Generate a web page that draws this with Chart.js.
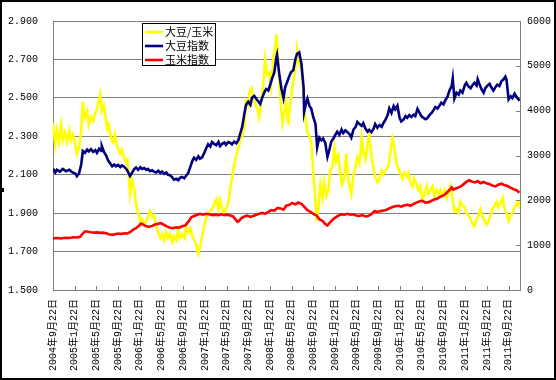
<!DOCTYPE html>
<html><head><meta charset="utf-8">
<script src="https://cdn.jsdelivr.net/npm/chart.js@4.4.1/dist/chart.umd.min.js"></script>
<style>html,body{margin:0;padding:0;background:#fff;}#wrap{width:556px;height:380px;}</style>
</head><body><div id="wrap"><canvas id="c" width="556" height="380"></canvas></div>
<script>
const tickLabels = ['2004年9月22日','2005年1月22日','2005年5月22日','2005年9月22日','2006年1月22日','2006年5月22日','2006年9月22日','2007年1月22日','2007年5月22日','2007年9月22日','2008年1月22日','2008年5月22日','2008年9月22日','2009年1月22日','2009年5月22日','2009年9月22日','2010年1月22日','2010年5月22日','2010年9月22日','2011年1月22日','2011年5月22日','2011年9月22日'];
const seriesNames = ['大豆/玉米','大豆指数','玉米指数'];
const leftTicks = [1.5,1.7,1.9,2.1,2.3,2.5,2.7,2.9];
const rightTicks = [0,1000,2000,3000,4000,5000,6000];

// months after 2004-09-22
const ratioMonths = [0,0.4,0.7,1.1,1.5,1.8,2.2,2.6,3.0,3.3,3.7,4.1,4.4,4.8,5.2,5.5,5.9,6.3,6.6,7.0,7.4,7.8,8.1,8.7,9.0,9.4,10.0,10.3,10.7,11.1,11.4,11.8,12.4,12.7,13.3,13.7,14.0,14.2,14.6,15.0,15.3,15.7,16.1,16.4,16.8,17.2,17.5,17.9,18.3,18.6,19.0,19.4,19.8,20.1,20.5,20.9,21.2,21.6,22.0,22.3,22.7,23.1,23.4,23.8,24.2,24.6,24.9,25.3,25.7,26.0,26.4,26.8,27.1,27.5,27.9,28.2,28.6,29.0,29.5,30.1,30.5,30.8,31.4,31.9,32.3,32.7,33.0,33.4,33.8,34.2,34.5,34.9,35.3,35.6,36.0,36.2,36.6,36.9,37.3,37.7,38.0,38.4,38.8,39.1,39.5,39.9,40.2,40.6,41.0,41.2,41.5,41.9,42.3,42.6,43.0,43.4,43.7,44.1,44.5,44.9,45.0,45.4,45.8,46.2,46.5,46.9,47.3,47.6,48.0,48.4,48.6,48.9,49.3,49.7,50.0,50.4,50.8,51.1,51.5,51.9,52.2,52.6,53.0,53.3,53.7,54.1,54.4,55.0,55.4,55.8,56.1,56.5,56.9,57.2,57.6,58.0,58.3,58.7,59.1,59.4,59.8,60.2,60.6,60.9,61.3,61.7,62.0,62.4,62.6,62.9,63.3,63.7,64.1,64.4,64.8,65.2,65.5,65.9,66.3,66.6,67.0,67.4,67.7,68.1,68.5,68.9,69.2,69.6,70.0,70.3,70.7,71.1,71.4,71.8,72.2,72.6,72.9,73.3,73.7,74.0,74.4,74.8,75.1,75.5,75.9,76.2,76.6,77.0,77.4,77.7,78.1,78.5,78.8,79.2,79.6,79.9,80.3,80.7,81.0,81.4,81.8,82.1,82.5,82.9,83.2,83.6,84.0,84.4,84.7,85.1,85.5,85.8,86.0];
const ratioValues = [2.37,2.26,2.33,2.27,2.36,2.28,2.32,2.27,2.33,2.28,2.31,2.26,2.21,2.24,2.33,2.48,2.40,2.43,2.36,2.40,2.38,2.42,2.44,2.52,2.43,2.46,2.34,2.36,2.29,2.27,2.31,2.25,2.21,2.23,2.17,2.18,2.08,2.00,2.07,2.02,1.95,1.90,1.86,1.87,1.84,1.86,1.88,1.91,1.88,1.89,1.84,1.80,1.77,1.79,1.76,1.80,1.77,1.79,1.75,1.78,1.76,1.81,1.77,1.79,1.77,1.83,1.80,1.82,1.78,1.76,1.74,1.69,1.72,1.78,1.84,1.87,1.90,1.91,1.93,1.97,1.92,1.97,1.90,1.92,1.95,2.03,2.08,2.15,2.20,2.24,2.28,2.30,2.36,2.48,2.46,2.53,2.55,2.50,2.47,2.44,2.40,2.48,2.58,2.70,2.62,2.63,2.56,2.70,2.77,2.83,2.70,2.50,2.37,2.42,2.48,2.36,2.46,2.55,2.62,2.70,2.75,2.68,2.65,2.52,2.40,2.32,2.30,2.27,2.10,1.96,1.86,1.92,2.05,1.98,2.06,1.99,2.02,2.12,2.14,2.24,2.17,2.20,2.10,2.05,2.08,2.21,2.08,2.00,2.10,2.14,2.19,2.16,2.29,2.22,2.18,2.26,2.31,2.20,2.13,2.09,2.06,2.08,2.12,2.10,2.12,2.14,2.17,2.26,2.29,2.25,2.16,2.13,2.10,2.08,2.11,2.09,2.11,2.06,2.04,2.08,2.05,2.02,2.04,1.97,2.00,2.04,2.00,2.02,2.04,1.99,2.02,2.00,2.02,1.99,2.02,1.98,2.01,2.04,1.97,1.91,1.92,1.90,1.96,1.94,1.93,1.90,1.89,1.87,1.84,1.83,1.87,1.89,1.92,1.88,1.86,1.84,1.86,1.89,1.92,1.94,1.96,1.93,1.95,1.98,1.93,1.90,1.86,1.89,1.90,1.93,1.95,1.94,1.97];

const soyMonths = [0,0.4,0.7,1.3,1.8,2.4,3.0,3.5,4.1,4.4,4.8,5.2,5.5,5.9,6.3,6.6,7.0,7.4,7.8,8.1,8.5,8.9,9.0,9.4,9.8,10.2,10.5,10.9,11.3,11.6,12.0,12.4,12.7,13.1,13.5,13.8,14.2,14.6,15.0,15.3,15.7,16.1,16.4,16.8,17.2,17.5,17.9,18.3,18.6,19.0,19.4,19.8,20.1,20.5,20.9,21.2,21.6,22.0,22.3,22.7,23.1,23.4,23.8,24.2,24.6,24.9,25.3,25.7,26.0,26.4,26.8,27.1,27.5,27.9,28.2,28.6,29.0,29.3,29.7,30.1,30.5,30.8,31.2,31.6,31.9,32.3,32.7,33.0,33.4,33.8,34.2,34.5,34.9,35.3,35.6,36.0,36.4,36.7,37.1,37.5,37.9,38.2,38.6,39.0,39.3,39.7,40.1,40.4,40.8,41.2,41.3,41.7,42.1,42.5,42.8,43.2,43.6,43.9,44.3,44.7,45.0,45.4,45.8,46.2,46.3,46.7,46.9,47.3,47.6,48.0,48.4,48.7,49.1,49.5,49.8,50.2,50.6,51.0,51.3,51.7,52.1,52.4,52.8,53.2,53.5,53.9,54.3,54.7,55.0,55.4,55.8,56.1,56.5,56.9,57.2,57.6,58.0,58.3,58.7,59.1,59.4,59.8,60.2,60.6,60.9,61.3,61.7,62.0,62.4,62.8,63.1,63.5,63.9,64.2,64.6,65.0,65.3,65.7,66.1,66.5,66.8,67.2,67.6,67.9,68.3,68.7,69.0,69.4,69.8,70.2,70.5,70.9,71.3,71.6,72.0,72.4,72.7,73.1,73.5,73.7,74.0,74.4,74.8,75.1,75.5,75.9,76.2,76.6,77.0,77.4,77.7,78.1,78.3,78.6,79.0,79.4,79.7,80.1,80.5,80.8,81.2,81.6,81.9,82.3,82.7,83.1,83.4,83.6,83.8,84.0,84.4,84.7,85.1,85.5,85.8,86.0];
const soyValues = [2710,2620,2680,2640,2700,2650,2680,2630,2600,2540,2600,2800,3100,3060,3130,3090,3140,3080,3120,3060,3150,3100,3210,3080,3000,2880,2830,2760,2800,2760,2790,2740,2780,2750,2700,2640,2540,2620,2700,2730,2680,2740,2700,2720,2680,2700,2650,2670,2640,2620,2660,2610,2640,2590,2620,2570,2560,2510,2460,2480,2450,2500,2520,2490,2560,2600,2740,2880,2950,2900,2980,2930,2960,3060,3150,3250,3200,3300,3260,3230,3300,3210,3260,3290,3240,3300,3280,3250,3310,3270,3350,3480,3650,3950,4130,4200,4130,4290,4330,4260,4200,4150,4300,4420,4480,4450,4600,4720,4850,5200,5250,4830,4500,4280,4520,4650,4780,4860,4900,5150,5270,5300,5050,4520,3970,4200,4270,4100,4050,3850,3700,3180,3400,3340,3380,3280,2970,3150,3310,3380,3470,3530,3460,3580,3500,3560,3520,3470,3400,3580,3640,3750,3700,3660,3720,3600,3530,3570,3520,3600,3700,3620,3680,3640,3720,3800,3900,4050,3950,4100,4030,4110,3840,3760,3800,3880,3840,3900,3860,3910,3880,4040,3950,3880,3840,3810,3830,3900,3950,4020,4080,4050,4120,4180,4140,4250,4300,4450,4550,4720,4270,4400,4360,4450,4400,4560,4620,4540,4500,4580,4620,4560,4700,4600,4480,4400,4500,4560,4600,4520,4450,4530,4580,4550,4660,4700,4760,4700,4480,4250,4320,4280,4380,4300,4260,4220];

const cornMonths = [0,0.7,1.5,2.2,3.0,3.7,4.4,5.0,5.5,5.9,6.5,7.0,7.6,8.1,8.7,9.2,9.8,10.3,10.9,11.4,12.0,12.6,13.1,13.7,14.2,14.8,15.3,15.9,16.2,16.6,17.2,17.7,18.3,18.8,19.4,19.9,20.5,21.0,21.6,22.2,22.7,23.3,23.8,24.4,25.0,25.5,26.0,26.6,27.1,27.7,28.2,28.8,29.4,29.9,30.5,31.0,31.6,32.1,32.7,33.2,33.6,34.0,34.3,34.7,35.3,35.8,36.4,36.9,37.5,38.0,38.6,39.1,39.7,40.2,40.8,41.4,41.9,42.5,43.0,43.6,44.1,44.7,45.2,45.8,46.3,46.9,47.4,48.0,48.6,49.1,49.7,50.2,50.6,51.0,51.5,52.1,52.6,53.2,53.7,54.3,54.8,55.4,55.9,56.5,57.0,57.6,58.1,58.7,59.3,59.8,60.4,60.9,61.5,62.0,62.6,63.1,63.7,64.2,64.8,65.4,65.9,66.5,67.0,67.6,68.1,68.7,69.3,69.8,70.3,70.9,71.4,72.0,72.6,73.1,73.5,73.8,74.4,75.0,75.5,76.1,76.7,77.2,77.8,78.3,78.8,79.4,79.9,80.5,81.0,81.6,82.1,82.7,83.2,83.8,84.4,84.9,85.5,86.0];
const cornValues = [1150,1160,1150,1165,1160,1175,1170,1185,1260,1310,1300,1290,1280,1285,1275,1280,1265,1245,1230,1245,1260,1250,1265,1260,1290,1350,1380,1440,1480,1460,1420,1410,1430,1460,1480,1490,1450,1420,1390,1380,1400,1390,1420,1440,1530,1620,1650,1680,1700,1680,1700,1690,1670,1680,1670,1690,1670,1680,1660,1640,1580,1520,1540,1600,1640,1660,1630,1650,1680,1700,1720,1700,1740,1780,1770,1830,1820,1790,1880,1900,1940,1910,1950,1920,1860,1780,1750,1700,1660,1580,1540,1470,1440,1500,1560,1620,1660,1690,1680,1700,1680,1690,1660,1650,1670,1640,1650,1690,1760,1740,1760,1770,1790,1820,1850,1870,1880,1860,1890,1900,1880,1920,1950,1980,1990,1950,1960,1990,2020,2040,2080,2110,2170,2230,2290,2240,2270,2300,2340,2400,2450,2420,2400,2430,2380,2410,2380,2360,2330,2310,2350,2370,2340,2320,2280,2250,2220,2170];

const toPts = (xs, ys) => xs.map((m, i) => ({x: m, y: ys[i]}));
const GRAY = '#808080';
const numFont = {family: "'Liberation Mono','Noto Sans CJK SC',monospace", size: 10};

const deco = {
  id: 'deco',
  beforeDraw(chart) {
    const c = chart.ctx; c.save(); c.fillStyle = '#fff'; c.fillRect(0, 0, chart.width, chart.height); c.restore();
  },
  afterDraw(chart) {
    const c = chart.ctx, a = chart.chartArea;
    c.save();
    c.strokeStyle = GRAY; c.lineWidth = 1;
    const xs = chart.scales.x;
    xs.ticks.forEach(t => { const px = Math.round(xs.getPixelForValue(t.value)) + 0.5; c.beginPath(); c.moveTo(px, a.bottom); c.lineTo(px, a.bottom - 4); c.stroke(); });
    const yr = chart.scales.y2;
    yr.ticks.forEach(t => { const py = Math.round(yr.getPixelForValue(t.value)) + 0.5; c.beginPath(); c.moveTo(a.right, py); c.lineTo(a.right - 4, py); c.stroke(); });
    // legend
    c.fillStyle = '#fff'; c.fillRect(142, 23, 73, 42);
    c.strokeStyle = '#000'; c.lineWidth = 1; c.strokeRect(142.5, 23.5, 73, 42);
    c.font = "11px 'Noto Sans CJK SC'"; c.textBaseline = 'middle'; c.textAlign = 'left';
    chart.data.datasets.forEach((ds, i) => {
      const y = 32 + i * 14;
      c.strokeStyle = ds.borderColor; c.lineWidth = 2.6;
      c.beginPath(); c.moveTo(145, y); c.lineTo(163, y); c.stroke();
      c.fillStyle = '#000'; c.fillText(seriesNames[i], 165, y);
    });
    // outer frame
    c.strokeStyle = '#000'; c.lineWidth = 2; c.strokeRect(1, 1, chart.width - 2, chart.height - 2);
    c.fillStyle = '#000'; c.fillRect(0, 188, 4, 4);
    c.restore();
  }
};

new Chart(document.getElementById('c'), {
  type: 'line',
  data: {
    datasets: [
      {label: seriesNames[0], data: toPts(ratioMonths, ratioValues), yAxisID: 'y', borderColor: '#FFFF00', order: 3},
      {label: seriesNames[1], data: toPts(soyMonths, soyValues), yAxisID: 'y2', borderColor: '#000080', order: 2},
      {label: seriesNames[2], data: toPts(cornMonths, cornValues), yAxisID: 'y2', borderColor: '#FF0000', order: 1}
    ]
  },
  options: {
    responsive: false, animation: false,
    layout: {padding: {top: 13, left: 0, right: 0, bottom: 0}},
    elements: {point: {radius: 0}, line: {borderWidth: 2.6, tension: 0}},
    plugins: {legend: {display: false}, tooltip: {enabled: false}},
    scales: {
      x: {
        type: 'linear', min: 0, max: 86.1,
        grid: {display: false, drawTicks: false},
        border: {display: true, color: GRAY},
        afterBuildTicks: s => { s.ticks = tickLabels.map((_, i) => ({value: i * 4})); },
        afterFit: s => { s.height = 90; },
        ticks: {autoSkip: false, minRotation: 90, maxRotation: 90, padding: 9, color: '#000', font: numFont,
          callback: (v, i) => tickLabels[i]}
      },
      y: {
        position: 'left', min: 1.5, max: 2.9,
        grid: {color: GRAY, drawTicks: false},
        border: {display: true, color: GRAY},
        afterBuildTicks: s => { s.ticks = leftTicks.map(v => ({value: v})); },
        afterFit: s => { s.width = 53; },
        ticks: {padding: 15, color: '#000', font: numFont, callback: v => Number(v).toFixed(3)}
      },
      y2: {
        position: 'right', min: 0, max: 6000,
        grid: {display: false, drawTicks: false},
        border: {display: true, color: GRAY},
        afterBuildTicks: s => { s.ticks = rightTicks.map(v => ({value: v})); },
        afterFit: s => { s.width = 36; },
        ticks: {padding: 7, color: '#000', font: numFont, callback: v => String(v)}
      }
    }
  },
  plugins: [deco]
});
</script></body></html>
